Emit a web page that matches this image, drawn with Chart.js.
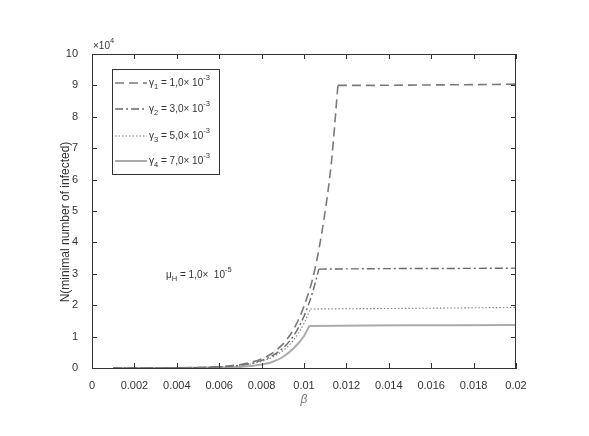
<!DOCTYPE html>
<html>
<head>
<meta charset="utf-8">
<script src="https://cdn.jsdelivr.net/npm/chart.js@4.4.1/dist/chart.umd.min.js"></script>
<style>
body { margin: 0; background: #fff; }
canvas { display: block; }
</style>
</head>
<body>
<canvas id="chart" width="589" height="436" style="width:589px;height:436px"></canvas>
<script>
// beta values and N (in units of 10^4)
var beta1 = [0.001, 0.002, 0.003, 0.004, 0.005, 0.006, 0.0065, 0.007, 0.0075, 0.008, 0.0085, 0.009, 0.0095, 0.010, 0.0105, 0.011, 0.0113, 0.0116, 0.013, 0.015, 0.017, 0.019, 0.020];
var n1 = [0, 0, 0, 0.005, 0.015, 0.045, 0.07, 0.11, 0.18, 0.29, 0.47, 0.76, 1.22, 1.97, 3.1, 5.0, 6.6, 9.0, 9.0, 9.01, 9.02, 9.03, 9.04];

var beta2 = [0.001, 0.002, 0.003, 0.004, 0.005, 0.006, 0.0065, 0.007, 0.0075, 0.008, 0.0085, 0.009, 0.0095, 0.010, 0.0104, 0.0107, 0.013, 0.015, 0.017, 0.020];
var n2 = [0, 0, 0, 0.004, 0.012, 0.035, 0.055, 0.09, 0.15, 0.24, 0.39, 0.63, 1.02, 1.65, 2.4, 3.15, 3.16, 3.17, 3.17, 3.18];

var beta3 = [0.001, 0.002, 0.003, 0.004, 0.005, 0.006, 0.0065, 0.007, 0.0075, 0.008, 0.0085, 0.009, 0.0095, 0.010, 0.0103, 0.013, 0.015, 0.017, 0.020];
var n3 = [0, 0, 0, 0.003, 0.01, 0.03, 0.05, 0.08, 0.13, 0.21, 0.34, 0.55, 0.88, 1.42, 1.88, 1.89, 1.9, 1.91, 1.93];

var beta4 = [0.001, 0.002, 0.003, 0.004, 0.005, 0.006, 0.0065, 0.007, 0.0075, 0.008, 0.0085, 0.009, 0.0095, 0.010, 0.01025, 0.013, 0.015, 0.017, 0.020];
var n4 = [0, 0, 0, 0.001, 0.004, 0.012, 0.02, 0.035, 0.06, 0.11, 0.19, 0.35, 0.62, 1.02, 1.34, 1.35, 1.36, 1.36, 1.37];

// where each curve stops rising and goes flat
var cornerBeta = [0.0116, 0.0107, 0.0103, 0.01025];

var gammaLabels = ['1,0', '3,0', '5,0', '7,0'];
var xTicks = [0, 0.002, 0.004, 0.006, 0.008, 0.01, 0.012, 0.014, 0.016, 0.018, 0.02];
var yTicks = [0, 1, 2, 3, 4, 5, 6, 7, 8, 9, 10];

var FONT = '"Liberation Sans", Arial, sans-serif';
var styles = [
  { color: '#7a7a7a', dash: [9, 5], width: 1.6 },
  { color: '#6a6a6a', dash: [8, 3, 2, 3], width: 1.4 },
  { color: '#808080', dash: [1.5, 2], width: 1.1 },
  { color: '#ababab', dash: [], width: 2 }
];

var allBeta = [beta1, beta2, beta3, beta4];
var allN = [n1, n2, n3, n4];

var datasets = [];
for (var i = 0; i < 4; i++) {
  var rise = [], flat = [];
  for (var j = 0; j < allBeta[i].length; j++) {
    var p = { x: allBeta[i][j], y: allN[i][j] };
    if (p.x <= cornerBeta[i]) rise.push(p);
    if (p.x >= cornerBeta[i]) flat.push(p);
  }
  datasets.push({ data: rise, borderColor: styles[i].color, borderDash: styles[i].dash, borderWidth: styles[i].width,
    pointRadius: 0, fill: false, cubicInterpolationMode: 'monotone' });
  datasets.push({ data: flat, borderColor: styles[i].color, borderDash: styles[i].dash, borderWidth: styles[i].width,
    pointRadius: 0, fill: false, tension: 0 });
}

function rich(ctx, x, y, parts, size) {
  parts.forEach(function (p) {
    var s = p[1] ? size - 2.5 : size;
    ctx.font = s + 'px ' + FONT;
    var dy = p[1] == 'sub' ? 4 : (p[1] == 'sup' ? -5 : 0);
    ctx.fillText(p[0], x, y + dy);
    x += ctx.measureText(p[0]).width;
  });
}

var extras = {
  id: 'extras',
  beforeDraw: function (chart) {
    var c = chart.ctx;
    c.save();
    c.fillStyle = '#fff';
    c.fillRect(0, 0, chart.width, chart.height);
    c.restore();
  },
  afterDraw: function (chart) {
    var c = chart.ctx, a = chart.chartArea, sx = chart.scales.x, sy = chart.scales.y;
    c.save();
    // box and inward ticks
    c.strokeStyle = '#333';
    c.lineWidth = 1;
    c.beginPath();
    c.moveTo(a.left, a.top + 0.5); c.lineTo(a.right, a.top + 0.5);
    c.moveTo(a.right - 0.5, a.top); c.lineTo(a.right - 0.5, a.bottom);
    sx.ticks.forEach(function (t) {
      var px = Math.round(sx.getPixelForValue(t.value)) + 0.5;
      c.moveTo(px, a.bottom); c.lineTo(px, a.bottom - 5);
      c.moveTo(px, a.top); c.lineTo(px, a.top + 5);
    });
    sy.ticks.forEach(function (t) {
      var py = Math.round(sy.getPixelForValue(t.value)) + 0.5;
      c.moveTo(a.left, py); c.lineTo(a.left + 5, py);
      c.moveTo(a.right, py); c.lineTo(a.right - 5, py);
    });
    c.stroke();

    c.fillStyle = '#333';
    c.textBaseline = 'middle';
    c.textAlign = 'left';
    // exponent label
    rich(c, a.left + 1, a.top - 8, [['\u00d710', null], ['4', 'sup']], 10);

    // legend
    var lx = 112, ly = 69, lw = 107, lh = 105;
    c.fillStyle = '#fff';
    c.fillRect(lx, ly, lw, lh);
    c.strokeStyle = '#333';
    c.strokeRect(lx + 0.5, ly + 0.5, lw, lh);
    var rows = [83, 109, 136, 161];
    for (var i = 0; i < 4; i++) {
      c.strokeStyle = styles[i].color;
      c.lineWidth = styles[i].width;
      c.setLineDash(styles[i].dash);
      c.beginPath();
      c.moveTo(115, rows[i]); c.lineTo(147, rows[i]);
      c.stroke();
      c.setLineDash([]);
      c.fillStyle = '#333';
      rich(c, 149, rows[i], [['\u03b3', null], [String(i + 1), 'sub'], [' = ' + gammaLabels[i] + '\u00d7 10', null], ['-3', 'sup']], 10);
    }

    // annotation
    rich(c, 166, 275, [['\u03bc', null], ['H', 'sub'], [' = 1,0\u00d7  10', null], ['-5', 'sup']], 10);

    // axis titles
    c.textAlign = 'center';
    c.font = 'italic 12px ' + FONT;
    c.fillStyle = '#777';
    c.fillText('\u03b2', 304, 400);
    c.fillStyle = '#333';
    c.translate(66, 222);
    c.rotate(-Math.PI / 2);
    c.font = '12px ' + FONT;
    c.fillText('N(minimal number of infected)', 0, 0);
    c.restore();
  }
};

var chart = new Chart(document.getElementById('chart').getContext('2d'), {
  type: 'line',
  data: { datasets: datasets },
  options: {
    responsive: false,
    devicePixelRatio: 1,
    animation: false,
    layout: { padding: { top: 54, right: 73, left: 0, bottom: 0 } },
    plugins: { legend: { display: false }, tooltip: { enabled: false } },
    scales: {
      x: {
        type: 'linear', min: 0, max: 0.02,
        afterBuildTicks: function (s) { s.ticks = xTicks.map(function (v) { return { value: v }; }); },
        afterFit: function (s) { s.height = 68; },
        grid: { display: false },
        border: { color: '#333', width: 1 },
        ticks: { color: '#333', padding: 3, maxRotation: 0, autoSkip: false, font: { size: 11, family: FONT },
          callback: function (v) { return String(+v.toFixed(3)); } }
      },
      y: {
        type: 'linear', min: 0, max: 10,
        afterBuildTicks: function (s) { s.ticks = yTicks.map(function (v) { return { value: v }; }); },
        afterFit: function (s) { s.width = 92; },
        grid: { display: false },
        border: { color: '#333', width: 1 },
        ticks: { color: '#333', padding: 6, autoSkip: false, font: { size: 11, family: FONT },
          callback: function (v) { return String(v); } }
      }
    }
  },
  plugins: [extras]
});
</script>
</body>
</html>
